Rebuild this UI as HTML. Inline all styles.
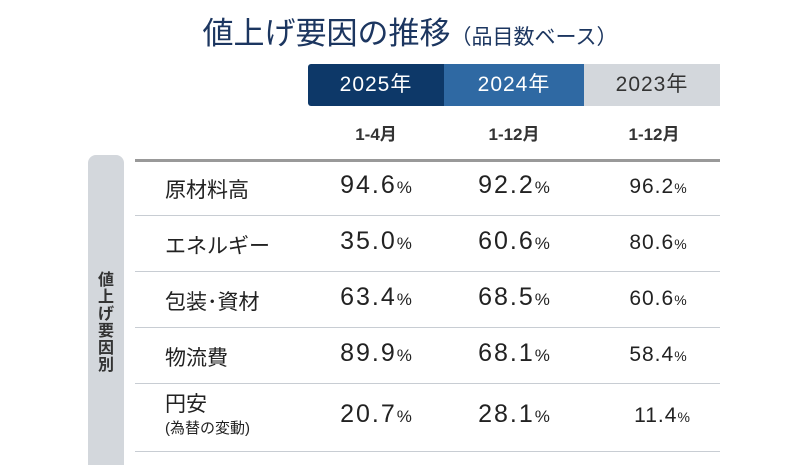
<!DOCTYPE html>
<html><head><meta charset="utf-8"><style>
body{margin:0;width:800px;height:460px;background:#fff;position:relative;overflow:hidden;font-family:"Liberation Sans","Noto Sans CJK JP",sans-serif;color:#222}
.a{position:absolute;white-space:nowrap}
.t{left:0;width:820px;text-align:center;top:8px;font-size:31px;color:#1c3660}
.t small{font-size:21px}
.h{top:64px;height:42px;line-height:42px;text-align:center;font-size:21px;letter-spacing:1px}
.m{top:120px;font-size:17px;text-align:center;width:140px;font-weight:bold;color:#333}
.line{left:135px;width:585px;height:1px;background:#c8cdd3}
.l{left:165px;font-size:21px}
.v{font-size:25px;text-align:center;width:140px;letter-spacing:2px}
.v span{font-size:17px;letter-spacing:0}
.v.s{font-size:21px;letter-spacing:1px}.v.s span{font-size:14px}
</style></head><body>
<div class="a t">値上げ要因の推移<small>（品目数ベース）</small></div>
<div class="a h" style="left:308px;width:136px;background:#0d3868;color:#fff;border-radius:3px 0 0 3px">2025年</div>
<div class="a h" style="left:444px;width:140px;background:#2f69a3;color:#fff">2024年</div>
<div class="a h" style="left:584px;width:136px;background:#d3d7dc;color:#333">2023年</div>
<div class="a m" style="left:306px">1-4月</div>
<div class="a m" style="left:444px">1-12月</div>
<div class="a m" style="left:584px">1-12月</div>
<div class="a" style="left:88px;top:155px;width:36px;height:310px;background:#d3d7dc;border-radius:8px 8px 0 0"></div>
<div class="a" style="left:96px;top:272px;width:20px;font-size:16px;line-height:17px;white-space:normal;text-align:center;color:#333;font-weight:bold">値上げ要因別</div>
<div class="a line" style="top:159px;height:3px;background:#999"></div>
<div class="a line" style="top:215px"></div>
<div class="a line" style="top:271px"></div>
<div class="a line" style="top:327px"></div>
<div class="a line" style="top:383px"></div>
<div class="a line" style="top:451px"></div>

<div class="a l" style="top:174px">原材料高</div>
<div class="a l" style="top:230px">エネルギー</div>
<div class="a l" style="top:286px">包装･資材</div>
<div class="a l" style="top:342px">物流費</div>
<div class="a l" style="top:394px;line-height:22px">円安<br><span style="font-size:15px">(為替の変動)</span></div>

<div class="a v" style="left:306px;top:171px">94.6<span>%</span></div>
<div class="a v" style="left:444px;top:171px">92.2<span>%</span></div>
<div class="a v s" style="left:588px;top:175px">96.2<span>%</span></div>
<div class="a v" style="left:306px;top:227px">35.0<span>%</span></div>
<div class="a v" style="left:444px;top:227px">60.6<span>%</span></div>
<div class="a v s" style="left:588px;top:231px">80.6<span>%</span></div>
<div class="a v" style="left:306px;top:283px">63.4<span>%</span></div>
<div class="a v" style="left:444px;top:283px">68.5<span>%</span></div>
<div class="a v s" style="left:588px;top:287px">60.6<span>%</span></div>
<div class="a v" style="left:306px;top:339px">89.9<span>%</span></div>
<div class="a v" style="left:444px;top:339px">68.1<span>%</span></div>
<div class="a v s" style="left:588px;top:343px">58.4<span>%</span></div>
<div class="a v" style="left:306px;top:400px">20.7<span>%</span></div>
<div class="a v" style="left:444px;top:400px">28.1<span>%</span></div>
<div class="a v s" style="left:592px;top:404px">11.4<span>%</span></div>
</body></html>
